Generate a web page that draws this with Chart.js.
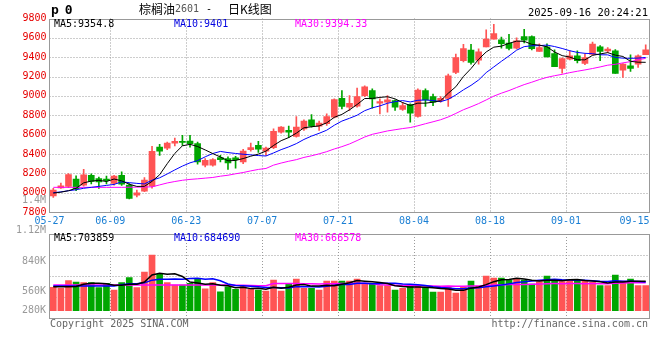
<!DOCTYPE html>
<html><head><meta charset="utf-8">
<script src="https://cdn.jsdelivr.net/npm/chart.js@4.4.1/dist/chart.umd.min.js"></script>
<style>
html,body{margin:0;padding:0;background:#fff;}
body{width:660px;height:360px;overflow:hidden;position:relative;}
canvas{position:absolute;left:0;}
#c1{top:0;}
#c2{top:190px;}
.t{position:absolute;white-space:pre;font-family:'DejaVu Sans Mono',monospace;font-size:10px;line-height:12px;}
.cjk{position:absolute;white-space:pre;font-family:'Noto Sans CJK SC',sans-serif;font-size:12px;line-height:14px;color:#000;}
</style></head>
<body>
<canvas id="c1" width="660" height="225"></canvas>
<canvas id="c2" width="660" height="170"></canvas>

<div class="t" style="left:51px;top:3px;font-size:13px;line-height:14px;font-weight:bold;letter-spacing:-1px;">p 0</div>
<div class="cjk" style="left:139px;top:2px;">棕榈油</div>
<div class="t" style="left:175px;top:3px;color:#555;">2601</div>
<div class="t" style="left:206px;top:3px;color:#000;">-</div>
<div class="cjk" style="left:228px;top:2px;">日K线图</div>
<div class="t" style="right:12px;top:6px;color:#000;font-size:10.5px;">2025-09-16 20:24:21</div>

<div class="t" style="left:54px;top:18px;color:#000;">MA5:9354.8</div>
<div class="t" style="left:174px;top:18px;color:#0000e0;">MA10:9401</div>
<div class="t" style="left:295px;top:18px;color:#ff00ff;">MA30:9394.33</div>

<div class="t" style="left:54px;top:232px;color:#000;">MA5:703859</div>
<div class="t" style="left:174px;top:232px;color:#0000e0;">MA10:684690</div>
<div class="t" style="left:295px;top:232px;color:#ff00ff;">MA30:666578</div>

<div class="t" style="right:614px;top:194px;color:#999;">1.4M</div>
<div class="t" style="right:614px;top:224px;color:#999;">1.12M</div>
<div class="t" style="right:614px;top:255px;color:#999;">840K</div>
<div class="t" style="right:614px;top:285px;color:#999;">560K</div>
<div class="t" style="right:614px;top:304px;color:#999;">280K</div>

<div class="t" style="left:50px;top:318px;color:#666;">Copyright 2025 SINA.COM</div>
<div class="t" style="right:12px;top:318px;color:#666;">http://finance.sina.com.cn</div>

<script>
// ---------- data ----------
const dates = ['05-27','05-28','05-29','05-30','06-03','06-04','06-05','06-06',
 '06-09','06-10','06-11','06-12','06-13','06-16','06-17','06-18','06-19','06-20',
 '06-23','06-24','06-25','06-26','06-27','06-30','07-01','07-02','07-03','07-04',
 '07-07','07-08','07-09','07-10','07-11','07-14','07-15','07-16','07-17','07-18',
 '07-21','07-22','07-23','07-24','07-25','07-28','07-29','07-30','07-31','08-01',
 '08-04','08-05','08-06','08-07','08-08','08-11','08-12','08-13','08-14','08-15',
 '08-18','08-19','08-20','08-21','08-22','08-25','08-26','08-27','08-28','08-29',
 '09-01','09-02','09-03','09-04','09-05','09-08','09-09','09-10','09-11','09-12',
 '09-15'];
const dateTicks = ['05-27','06-09','06-23','07-07','07-21','08-04','08-18','09-01','09-15'];

const open  = [7965,8050,8064,8140,8078,8180,8145,8140,8095,8180,8078,7975,8016,8067,8471,8461,8512,8525,8533,8506,
               8283,8283,8362,8352,8360,8317,8445,8489,8430,8465,8625,8643,8581,8660,8753,8687,8712,8780,8975,8883,
               8893,9003,9054,8924,8934,8951,8859,8910,8787,9054,8993,8951,8975,9242,9363,9473,9370,9507,9586,9579,
               9545,9493,9613,9613,9459,9507,9438,9284,9380,9414,9335,9430,9507,9466,9466,9267,9311,9329,9425];
const high  = [8044,8100,8196,8175,8242,8195,8160,8170,8180,8214,8095,8026,8157,8479,8499,8523,8564,8592,8592,8523,
               8352,8352,8386,8369,8376,8448,8512,8530,8471,8660,8684,8687,8787,8753,8807,8739,8815,8969,9054,9003,
               9082,9105,9072,8969,9003,8959,8934,8918,9072,9072,9020,8993,9226,9431,9534,9534,9486,9682,9740,9609,
               9637,9600,9689,9620,9537,9537,9476,9394,9465,9465,9434,9555,9520,9500,9480,9335,9425,9425,9528];
const low   = [7951,8044,8052,8020,8067,8090,8045,8090,8078,8075,7934,7957,8009,8047,8386,8445,8482,8489,8471,8294,
               8266,8273,8317,8239,8252,8300,8430,8417,8386,8455,8615,8568,8574,8643,8677,8643,8694,8773,8866,8849,
               8883,8993,8872,8815,8831,8849,8849,8728,8780,8890,8900,8934,8890,9229,9352,9329,9329,9507,9586,9493,
               9476,9486,9548,9476,9459,9404,9301,9236,9373,9342,9322,9420,9363,9448,9232,9191,9253,9294,9425];
const close = [8026,8070,8188,8040,8183,8115,8112,8125,8170,8088,7941,7998,8129,8427,8430,8512,8530,8520,8506,8317,
               8335,8342,8342,8307,8340,8430,8465,8450,8461,8633,8677,8626,8677,8739,8687,8718,8787,8962,8890,8924,
               8993,9095,8969,8941,8959,8883,8900,8821,9061,8959,8934,8975,9208,9397,9489,9345,9455,9586,9644,9541,
               9490,9569,9576,9489,9500,9404,9301,9387,9414,9363,9397,9535,9459,9483,9232,9329,9284,9414,9476];
const volume = [622000,607000,718000,699000,689000,689000,616000,680000,582000,689000,762000,616000,845000,1093000,811000,
               689000,655000,655000,680000,738000,601000,689000,557000,630000,592000,641000,592000,582000,568000,728000,
               568000,670000,743000,607000,607000,582000,714000,714000,714000,714000,743000,670000,680000,645000,645000,
               582000,607000,655000,641000,621000,553000,553000,621000,538000,621000,714000,641000,787000,757000,757000,
               728000,743000,728000,670000,704000,787000,728000,704000,728000,728000,714000,694000,645000,645000,801000,
               714000,743000,645000,645000];
// moving-average values before a full window exists
const ma5Head  = [7995,8005,8020,8045];
const ma10Head = [8000,8008,8020,8030,8045,8055,8065,8075,8085];
const ma30Head = [8055,8055,8055,8055,8055,8055,8055,8055,8055,8055,8056,8057,8058,8060,8080,8100,8115,8128,8137,8143,
                  8150,8157,8170,8180,8195,8208,8225,8240,8250];
const vma5Head  = [630000,630000,630000,635000];
const vma10Head = [640000,640000,640000,640000,640000,640000,640000,640000,640000];
const vma30Head = [655000,655000,655000,655000,655000,655000,655000,655000,655000,655000,655000,655000,655000,655000,655000,
                   655000,655000,655000,655000,655000,655000,655000,655000,655000,652000,650000,648000,646000,645000];
const priceMin = 7800, priceMax = 9800, priceStep = 200;
const volBase = 280000;

// ---------- helpers ----------
function movingAvg(vals, n, head) {
  return vals.map((v, i) => {
    if (i < n - 1) return head[i];
    let s = 0; for (let k = i - n + 1; k <= i; k++) s += vals[k];
    return s / n;
  });
}
const RED = '#ff5454', GREEN = '#00a600', GRID = '#9a9a9a', FRAME = '#999999';
const isUp = close.map((c, i) => c >= open[i]);
const colors = isUp.map(u => u ? RED : GREEN);
const tickIdx = dateTicks.map(d => dates.indexOf(d));
const FONT = "'DejaVu Sans Mono', monospace";

function slotEdge(scale, i) {            // left edge of the category slot i
  const w = scale.getPixelForValue(1) - scale.getPixelForValue(0);
  return scale.getPixelForValue(i) - w / 2;
}
function dotted(ctx, x1, y1, x2, y2) {
  ctx.beginPath(); ctx.moveTo(x1, y1); ctx.lineTo(x2, y2); ctx.stroke();
}
function makeDecor(hLines, drawDates) {
  return {
    id: 'decor',
    beforeDatasetsDraw(chart) {
      const {ctx, chartArea: a, scales} = chart;
      ctx.save();
      ctx.strokeStyle = GRID; ctx.lineWidth = 1; ctx.setLineDash([1, 2]);
      hLines(chart).forEach(y => { const yy = Math.round(y) + 0.5; dotted(ctx, a.left, yy, a.right, yy); });
      tickIdx.forEach(i => {
        if (i <= 0 || i >= dates.length - 1) return;
        const x = Math.round(slotEdge(scales.x, i)) + 0.5;
        dotted(ctx, x, a.top, x, a.bottom);
      });
      ctx.restore();
    },
    afterDraw(chart) {
      const {ctx, chartArea: a, scales} = chart;
      ctx.save();
      ctx.strokeStyle = FRAME; ctx.lineWidth = 1; ctx.setLineDash([]);
      const l = Math.round(a.left) - 0.5, r = Math.round(a.right) - 0.5,
            t = Math.round(a.top) + 0.5, b = Math.round(a.bottom) + 0.5;
      ctx.strokeRect(l, t, r - l, b - t);
      if (drawDates) {
        ctx.font = '10px ' + FONT; ctx.fillStyle = '#1a7fd4'; ctx.textBaseline = 'middle';
        tickIdx.forEach(i => {
          const x = slotEdge(scales.x, i);
          const w = ctx.measureText(dates[i]).width;
          let align = 'center', xx = x;
          if (x + w / 2 > a.right) { align = 'right'; xx = a.right; }
          ctx.textAlign = align;
          ctx.fillText(dates[i], xx, a.bottom + 9.5);
        });
      }
      ctx.restore();
    }
  };
}

const ma5 = movingAvg(close, 5, ma5Head);
const ma10 = movingAvg(close, 10, ma10Head);
const ma30 = movingAvg(close, 30, ma30Head);
const vma5 = movingAvg(volume, 5, vma5Head);
const vma10 = movingAvg(volume, 10, vma10Head);
const vma30 = movingAvg(volume, 30, vma30Head);

function lineDs(data, color, w) {
  return {type: 'line', data, borderColor: color, borderWidth: w, pointRadius: 0, tension: 0,
          fill: false, order: 0, xAxisID: 'x', yAxisID: 'y'};
}

// ---------- price chart ----------
new Chart(document.getElementById('c1'), {
  type: 'bar',
  data: {
    labels: dates,
    datasets: [
      lineDs(ma5, '#000000', 1),
      lineDs(ma10, '#0000ff', 1),
      lineDs(ma30, '#ff00ff', 1),
      {data: dates.map((d, i) => [open[i], close[i]]), backgroundColor: colors, barThickness: 6,
       minBarLength: 1, grouped: false, order: 1, xAxisID: 'x', yAxisID: 'y'},
      {data: dates.map((d, i) => [low[i], high[i]]), backgroundColor: colors, barThickness: 1,
       grouped: false, order: 2, xAxisID: 'x', yAxisID: 'y'}
    ]
  },
  options: {
    responsive: false, animation: false, events: [],
    layout: {padding: {top: 18.5, right: 10.5, left: 0, bottom: 13}},
    plugins: {legend: {display: false}, tooltip: {enabled: false}},
    scales: {
      x: {display: false, offset: true},
      y: {position: 'left', min: priceMin, max: priceMax,
          afterFit: s => { s.width = 49.5; },
          ticks: {stepSize: priceStep, color: '#e60000', padding: 3, font: {family: FONT, size: 10},
                  callback: v => String(v)},
          grid: {display: false, drawTicks: false}, border: {display: false}}
    }
  },
  plugins: [makeDecor(ch => {
    const s = ch.scales.y, out = [];
    for (let p = priceMin + priceStep; p < priceMax; p += priceStep) out.push(s.getPixelForValue(p));
    return out;
  }, true)]
});

// ---------- volume chart ----------
new Chart(document.getElementById('c2'), {
  type: 'bar',
  data: {
    labels: dates,
    datasets: [
      lineDs(vma5, '#000000', 1.5),
      lineDs(vma10, '#0000ff', 1.5),
      lineDs(vma30, '#ff00ff', 1.5),
      {data: volume, base: volBase, backgroundColor: colors, barThickness: 6, grouped: false,
       order: 1, xAxisID: 'x', yAxisID: 'y'}
    ]
  },
  options: {
    responsive: false, animation: false, events: [],
    layout: {padding: {top: 44, right: 10.5, left: 0, bottom: 42}},
    plugins: {legend: {display: false}, tooltip: {enabled: false}},
    scales: {
      x: {display: false, offset: true},
      y: {position: 'left', min: 173400, max: 1400000,
          afterFit: s => { s.width = 49.5; },
          ticks: {display: false}, grid: {display: false, drawTicks: false}, border: {display: false}}
    }
  },
  plugins: [makeDecor(ch => {
    const a = ch.chartArea, h = a.bottom - a.top;
    return [a.top + h / 4, a.top + h / 2, a.top + 3 * h / 4];
  }, false)]
});
</script>
</body></html>
